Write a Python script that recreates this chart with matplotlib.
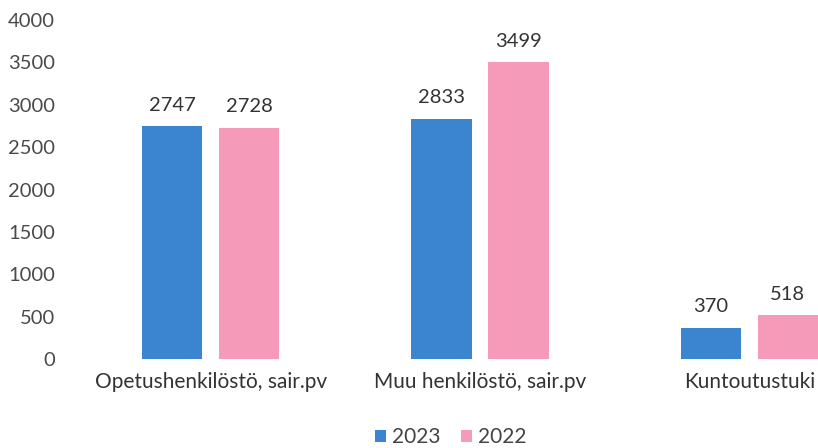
import matplotlib
matplotlib.use("Agg")
import matplotlib.pyplot as plt
import numpy as np

categories = ["Opetushenkilöstö, sair.pv", "Muu henkilöstö, sair.pv", "Kuntoutustuki"]
series_names = ["2023", "2022"]
values_2023 = [2747, 2833, 370]
values_2022 = [2728, 3499, 518]
yticks = [0, 500, 1000, 1500, 2000, 2500, 3000, 3500, 4000]

blue = "#3a84d0"
pink = "#f59ab8"
plt.rcParams['font.family'] = ['Lato', 'DejaVu Sans']

fig = plt.figure(figsize=(8.18, 4.48), dpi=100)
ax = fig.add_axes([76/818, 89/448, 808/818, 339/448])

x = np.arange(len(categories))
w = 0.223
off = 0.143
b1 = ax.bar(x - off, values_2023, w, color=blue, label=series_names[0])
b2 = ax.bar(x + off, values_2022, w, color=pink, label=series_names[1])

for bars, vals in ((b1, values_2023), (b2, values_2022)):
    for r, v in zip(bars, vals):
        ax.annotate(str(v), (r.get_x() + r.get_width() / 2, v), xytext=(0, 9),
                    textcoords="offset points", ha="center", va="bottom",
                    fontsize=14.5, color="#333333")

ax.set_xlim(-0.5, 2.5)
ax.set_ylim(0, 4000)
ax.set_yticks(yticks)
ax.set_yticklabels([str(t) for t in yticks], fontsize=14.5, color="#4a4a4a")
ax.set_xticks(x)
ax.set_xticklabels(categories, fontsize=15, color="#333333")
ax.tick_params(axis="y", length=0, pad=15)
ax.tick_params(axis="x", length=0, pad=9)
for s in ax.spines.values():
    s.set_visible(False)

fig.legend(handles=[b1, b2], labels=series_names, loc="center",
           bbox_to_anchor=(451/818, 11/448), ncol=2, frameon=False,
           fontsize=15, handlelength=0.5, handleheight=0.5, handletextpad=0.3,
           columnspacing=1.0, labelcolor="#444444")

fig.savefig("out.png", dpi=100)
